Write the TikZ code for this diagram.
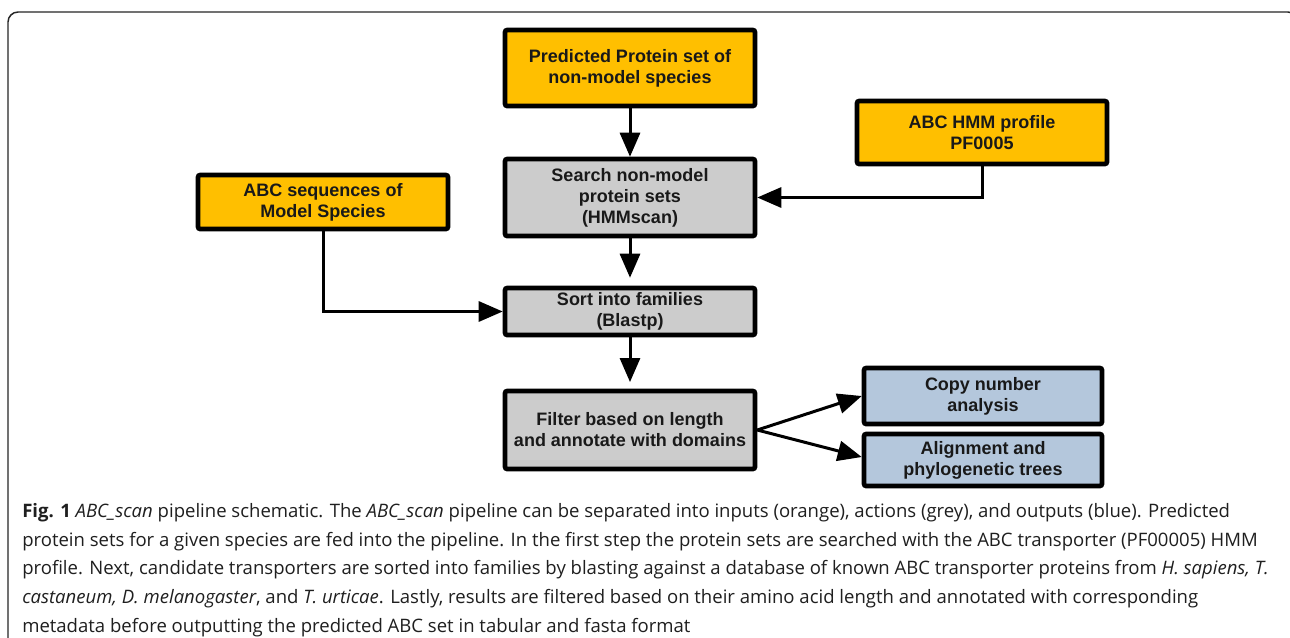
\documentclass[tikz,border=0pt]{standalone}
\usepackage{fontspec}
\setmainfont{Liberation Sans}
\newfontfamily\capfont{Open Sans}
\usetikzlibrary{arrows.meta,calc}
\definecolor{inorange}{RGB}{255,191,0}
\definecolor{actgrey}{RGB}{204,204,204}
\definecolor{outblue}{RGB}{180,199,220}
\begin{document}
\begin{tikzpicture}[x=0.75pt,y=-0.75pt,
  box/.style={draw=black,line width=3.4pt,rounded corners=1.5pt,align=center,
    inner sep=0pt,font=\fontsize{13.5}{15.75}\selectfont\bfseries,text=black!90},
  inbox/.style={box,fill=inorange},
  actbox/.style={box,fill=actgrey},
  outbox/.style={box,fill=outblue},
  conn/.style={line width=2.25pt,-{Triangle[length=18pt,width=15pt]}},
  frame/.style={line width=1.1pt,rounded corners=7.5pt,draw=black!85}]
\useasboundingbox (0,0) rectangle (1290,637);
\clip (0,0) rectangle (1290,637);
\fill[white] (0,0) rectangle (1290,637);
\draw[frame] (8,720) -- (8,12) -- (1298,12) -- (1298,720);

\node[inbox,minimum width=187.5pt,minimum height=57pt] (pred) at (630,68)
  {Predicted Protein set of\\non-model species};
\node[inbox,minimum width=187.5pt,minimum height=47.25pt] (hmm) at (982,132.5)
  {ABC HMM profile\\PF0005};
\node[inbox,minimum width=187.5pt,minimum height=40.5pt] (abcseq) at (323,202)
  {ABC sequences of\\Model Species};
\node[actbox,minimum width=187.5pt,minimum height=57.75pt] (search) at (630,197.5)
  {Search non-model\\protein sets\\(HMMscan)};
\node[actbox,minimum width=187.5pt,minimum height=35.25pt] (sort) at (630,311.5)
  {Sort into families\\(Blastp)};
\node[actbox,minimum width=187.5pt,minimum height=58.5pt] (filter) at (630,430)
  {Filter based on length\\and annotate with domains};
\node[outbox,minimum width=178.5pt,minimum height=42pt] (copy) at (983,396)
  {Copy number\\analysis};
\node[outbox,minimum width=178.5pt,minimum height=39pt] (align) at (983,460)
  {Alignment and\\phylogenetic trees};

\draw[conn] (pred.south) -- (search.north);
\draw[conn] (hmm.south) |- (search.east);
\draw[conn,shorten >=6pt] (search.south) -- (sort.north);
\draw[conn] (abcseq.south) |- (sort.west);
\draw[conn,shorten >=5pt] (sort.south) -- (filter.north);
\draw[conn] (filter.east) -- (copy.west);
\draw[conn] (filter.east) -- ($(align.west)+(0,-3)$);

\node[anchor=base west,align=left,inner sep=0pt,text=black!88,
  font=\capfont\fontsize{13.9}{21.4}\selectfont] (cap) at (22,632)
{\textbf{Fig. 1} \textit{ABC\_scan} pipeline schematic. The \textit{ABC\_scan} pipeline can be separated into inputs (orange), actions (grey), and outputs (blue). Predicted\\
protein sets for a given species are fed into the pipeline. In the first step the protein sets are searched with the ABC transporter (PF00005) HMM\\
profile. Next, candidate transporters are sorted into families by blasting against a database of known ABC transporter proteins from \textit{H. sapiens, T.}\\
\textit{castaneum, D. melanogaster}, and \textit{T. urticae}. Lastly, results are filtered based on their amino acid length and annotated with corresponding\\
metadata before outputting the predicted ABC set in tabular and fasta format};
\end{tikzpicture}
\end{document}
